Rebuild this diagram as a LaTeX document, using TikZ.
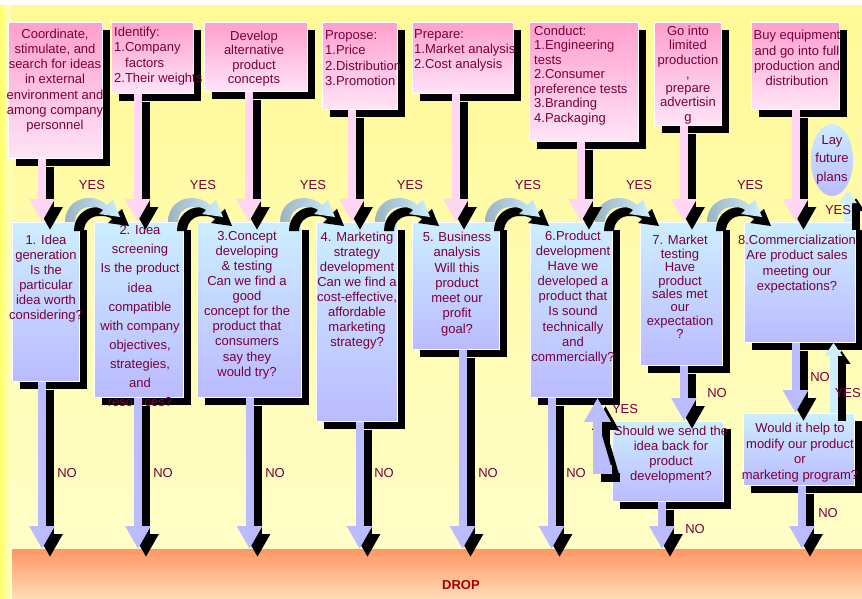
\documentclass[tikz,border=0pt]{standalone}
\usepackage{fontspec}
\setmainfont{Liberation Sans}
\usetikzlibrary{arrows.meta,shadows,shapes.geometric}

\definecolor{tcol}{RGB}{120,0,60}
\definecolor{droptxt}{RGB}{165,0,0}
\definecolor{ptop}{RGB}{255,160,205}
\definecolor{pbot}{RGB}{255,228,248}
\definecolor{btop}{RGB}{204,238,255}
\definecolor{bbot}{RGB}{187,187,255}
\definecolor{pinkA}{RGB}{255,215,245}
\definecolor{lavA}{RGB}{187,187,255}
\definecolor{lblue}{RGB}{204,238,255}
\definecolor{arcL}{RGB}{155,180,195}
\definecolor{arcR}{RGB}{204,238,255}
\definecolor{bgtop}{RGB}{255,249,150}
\definecolor{bgbot}{RGB}{255,255,204}
\definecolor{edgeL}{RGB}{255,255,105}
\definecolor{dtop}{RGB}{255,150,100}
\definecolor{dbot}{RGB}{255,222,182}

% fat arrow with a hard black shadow below-right
\newcommand\fatarrow[2]{%
  \draw[#1,black,transform canvas={shift={(8pt,-8pt)}}] #2;
  \draw[#1] #2;}

% outline of the curved YES arrow, origin at the outer foot
\newcommand\arcoutline{%
  (0,0) .. controls (0,-14) and (10,-24) .. (24,-24)
  .. controls (32,-24) and (38,-21) .. (42,-17)
  -- (48,-22) -- (55,-5) -- (34,-8) -- (38,-12)
  .. controls (34,-15) and (30,-15) .. (25,-15)
  .. controls (16,-15) and (10,-8) .. (10,0) -- cycle}

\tikzset{
  shadowed/.style={general shadow={fill=black,shadow xshift=8pt,shadow yshift=-8pt}},
  pbox/.style={rectangle,anchor=north west,inner sep=0pt,draw=white,line width=0.8pt,
    top color=ptop,bottom color=pbot,shadowed},
  bbox/.style={rectangle,anchor=north west,inner sep=0pt,draw=white,line width=0.8pt,
    top color=btop,bottom color=bbot,shadowed},
  txt/.style={inner sep=0pt,text=tcol,align=center},
  ltxt/.style={inner sep=0pt,text=tcol,align=left,anchor=west},
  lbl/.style={inner sep=0pt,text=tcol,font=\fontsize{13}{15}\selectfont},
  pinkarr/.style={draw=pinkA,fill=pinkA,line width=8pt,-{Triangle[width=24pt,length=23pt]}},
  lavarr/.style={draw=lavA,fill=lavA,line width=8pt,-{Triangle[width=24pt,length=23pt]}},
  bluearr/.style={draw=lblue,fill=lblue,line width=8pt,-{Triangle[width=17pt,length=13pt]}},
  yesarc/.pic={
    \begin{scope}[shift={(9,9)}]\fill[black] \arcoutline;\end{scope}
    \shade[left color=arcL,right color=arcR] \arcoutline;
  },
}

\begin{document}
\begin{tikzpicture}[x=1pt,y=-1pt]
\useasboundingbox (0,0) rectangle (862,598);

% background
\fill[white] (0,0) rectangle (862,598);
\shade[top color=bgtop,bottom color=bgbot] (0,5) rectangle (862,598);
\shade[left color=edgeL,right color=bgbot] (0,5) rectangle (11,598);

% drop band
\node[rectangle,anchor=north west,inner sep=0pt,minimum width=850pt,minimum height=49pt,
  top color=dtop,bottom color=dbot] (drop) at (12,549) {};
\node[inner sep=0pt,text=droptxt,font=\fontsize{13}{15}\selectfont\bfseries] (droplbl) at (461,585) {DROP};

% actions (top row)
\node[pbox,minimum width=94pt,minimum height=136pt] (t1) at (8,22) {};
\node[pbox,minimum width=82pt,minimum height=71pt] (t2) at (111,22) {};
\node[pbox,minimum width=103pt,minimum height=69pt] (t3) at (204,22) {};
\node[pbox,minimum width=75pt,minimum height=87pt] (t4) at (322,22) {};
\node[pbox,minimum width=101pt,minimum height=71pt] (t5) at (412,22) {};
\node[pbox,minimum width=109pt,minimum height=119pt] (t6) at (529,22) {};
\node[pbox,minimum width=67pt,minimum height=103pt] (t7) at (654,22) {};
\node[pbox,minimum width=88pt,minimum height=87pt] (t8) at (751,22) {};

\node[txt,font=\fontsize{13}{15.2}\selectfont] (t1txt) at (55,80.5)
  {Coordinate,\\stimulate, and\\search for ideas\\in external\\environment and\\among company\\personnel};
\node[ltxt,font=\fontsize{13}{15.3}\selectfont] (t2txt) at (114,56)
  {Identify:\\1.Company\\\hspace*{11pt}factors\\2.Their weights};
\node[txt,font=\fontsize{13}{14.5}\selectfont] (t3txt) at (254,58.5)
  {Develop\\alternative\\product\\concepts};
\node[ltxt,font=\fontsize{13}{15.3}\selectfont] (t4txt) at (325,58)
  {Propose:\\1.Price\\2.Distribution\\3.Promotion};
\node[ltxt,font=\fontsize{13}{15}\selectfont] (t5txt) at (414,50)
  {Prepare:\\1.Market analysis\\2.Cost analysis};
\node[ltxt,font=\fontsize{13}{14.5}\selectfont] (t6txt) at (534,75.5)
  {Conduct:\\1.Engineering\\tests\\2.Consumer\\preference tests\\3.Branding\\4.Packaging};
\node[txt,font=\fontsize{13}{14.3}\selectfont] (t7txt) at (688,75)
  {Go into\\limited\\production\\,\\prepare\\advertisin\\g};
\node[txt,font=\fontsize{13}{15.3}\selectfont] (t8txt) at (797,58)
  {Buy equipment\\and go into full\\production and\\distribution};

% decision stages (middle row)
\node[bbox,minimum width=67pt,minimum height=159pt] (m1) at (12,222) {};
\node[bbox,minimum width=89pt,minimum height=175pt] (m2) at (94,222) {};
\node[bbox,minimum width=104pt,minimum height=175pt] (m3) at (197,222) {};
\node[bbox,minimum width=81pt,minimum height=199pt] (m4) at (316,222) {};
\node[bbox,minimum width=87pt,minimum height=127pt] (m5) at (412,222) {};
\node[bbox,minimum width=82pt,minimum height=175pt] (m6) at (530,222) {};
\node[bbox,minimum width=82pt,minimum height=143pt] (m7) at (640,222) {};
\node[bbox,minimum width=111pt,minimum height=120pt] (m8) at (744,222) {};

\node[txt,font=\fontsize{13}{15}\selectfont] (m1txt) at (46,278.5)
  {1. Idea\\generation\\Is the\\particular\\idea worth\\considering?};
\node[txt,font=\fontsize{13}{19.1}\selectfont] (m2txt) at (140,316)
  {2. Idea\\screening\\Is the product\\idea\\compatible\\with company\\objectives,\\strategies,\\and\\resources?};
\node[txt,font=\fontsize{13}{15.1}\selectfont] (m3txt) at (247,305)
  {3.Concept\\developing\\\& testing\\Can we find a\\good\\concept for the\\product that\\consumers\\say they\\would try?};
\node[txt,font=\fontsize{13}{15}\selectfont] (m4txt) at (357,290.5)
  {4. Marketing\\strategy\\development\\Can we find a\\cost-effective,\\affordable\\marketing\\strategy?};
\node[txt,font=\fontsize{13}{15.3}\selectfont] (m5txt) at (457,284)
  {5. Business\\analysis\\Will this\\product\\meet our\\profit\\goal?};
\node[txt,font=\fontsize{13}{15.1}\selectfont] (m6txt) at (573,297.5)
  {6.Product\\development\\Have we\\developed a\\product that\\Is sound\\technically\\and\\commercially?};
\node[txt,font=\fontsize{13}{13.4}\selectfont] (m7txt) at (680,287)
  {7. Market\\testing\\Have\\product\\sales met\\our\\expectation\\?};
\node[txt,font=\fontsize{13}{15.3}\selectfont] (m8txt) at (797,264)
  {8.Commercialization\\Are product sales\\meeting our\\expectations?};

% follow-up questions
\node[bbox,minimum width=111pt,minimum height=80pt] (should) at (612,421) {};
\node[bbox,minimum width=111pt,minimum height=72pt] (would) at (743,413) {};
\node[txt,font=\fontsize{13}{15}\selectfont] (shouldtxt) at (671,454.5)
  {Should we send the\\idea back for\\product\\development?};
\node[txt,font=\fontsize{13}{15.7}\selectfont] (wouldtxt) at (800,452.5)
  {Would it help to\\modify our product\\or\\marketing program?};

% outcome
\node[ellipse,inner sep=0pt,minimum width=42pt,minimum height=72pt,
  top color=btop,bottom color=bbot] (ell) at (832,160) {};
\node[txt,font=\fontsize{13}{18.5}\selectfont] (elltxt) at (832,159.5) {Lay\\future\\plans};

% YES: move on to the next stage
\pic (y12) at (65,0 |- m1.north) {yesarc};
\pic (y23) at (168,0 |- m2.north) {yesarc};
\pic (y34) at (280,0 |- m3.north) {yesarc};
\pic (y45) at (375,0 |- m4.north) {yesarc};
\pic (y56) at (485,0 |- m5.north) {yesarc};
\pic (y67) at (595,0 |- m6.north) {yesarc};
\pic (y78) at (707,0 |- m7.north) {yesarc};

% actions feeding each stage
\fatarrow{pinkarr}{(42,0 |- t1.south) -- (42,0 |- m1.north)}
\fatarrow{pinkarr}{(137.5,0 |- t2.south) -- (137.5,0 |- m2.north)}
\fatarrow{pinkarr}{(249,0 |- t3.south) -- (249,0 |- m3.north)}
\fatarrow{pinkarr}{(352,0 |- t4.south) -- (352,0 |- m4.north)}
\fatarrow{pinkarr}{(456,0 |- t5.south) -- (456,0 |- m5.north)}
\fatarrow{pinkarr}{(581,0 |- t6.south) -- (581,0 |- m6.north)}
\fatarrow{pinkarr}{(684,0 |- t7.south) -- (684,0 |- m7.north)}
\fatarrow{pinkarr}{(795.5,0 |- t8.south) -- (795.5,0 |- m8.north)}

% NO: drop the idea
\fatarrow{lavarr}{(42,0 |- m1.south) -- (42,0 |- drop.north)}
\fatarrow{lavarr}{(138,0 |- m2.south) -- (138,0 |- drop.north)}
\fatarrow{lavarr}{(249.5,0 |- m3.south) -- (249.5,0 |- drop.north)}
\fatarrow{lavarr}{(359.5,0 |- m4.south) -- (359.5,0 |- drop.north)}
\fatarrow{lavarr}{(462.5,0 |- m5.south) -- (462.5,0 |- drop.north)}
\fatarrow{lavarr}{(551.5,0 |- m6.south) -- (551.5,0 |- drop.north)}
\fatarrow{lavarr}{(684,0 |- m7.south) -- (684,0 |- should.north)}
\fatarrow{lavarr}{(662,0 |- should.south) -- (662,0 |- drop.north)}
\fatarrow{lavarr}{(795.5,0 |- m8.south) -- (795.5,0 |- would.north)}
\fatarrow{lavarr}{(802,0 |- would.south) -- (802,0 |- drop.north)}

% YES loops back and onward
\fatarrow{lavarr,line width=9pt,-{Triangle[width=25pt,length=24pt]}}
  {([yshift=-8pt]should.west) -| (597.5,0 |- m6.south)}
\fatarrow{bluearr}{(833.5,0 |- would.north) -- (833.5,0 |- m8.south)}
\fatarrow{bluearr}{(848,0 |- m8.north) -- ([yshift=6pt]ell.south -| 848,0)}

% labels
\foreach \xx/\nm in {92/a,203/b,313/c,410/d,528/e,639/f,750/g}
  \node[lbl] (yes\nm) at (\xx,185) {YES};
\node[lbl] (yesplan) at (838,210) {YES};
\node[lbl] (yesback) at (625,409) {YES};
\node[lbl,anchor=east] (yesmod) at (861,393) {YES};
\foreach \xx/\nm in {67/a,163/b,275/c,384/d,488/e,576/f}
  \node[lbl] (no\nm) at (\xx,473) {NO};
\node[lbl] (nomt) at (717,393) {NO};
\node[lbl] (nosh) at (695,529) {NO};
\node[lbl] (nocm) at (820,377) {NO};
\node[lbl] (nowh) at (828,513) {NO};
\end{tikzpicture}
\end{document}
